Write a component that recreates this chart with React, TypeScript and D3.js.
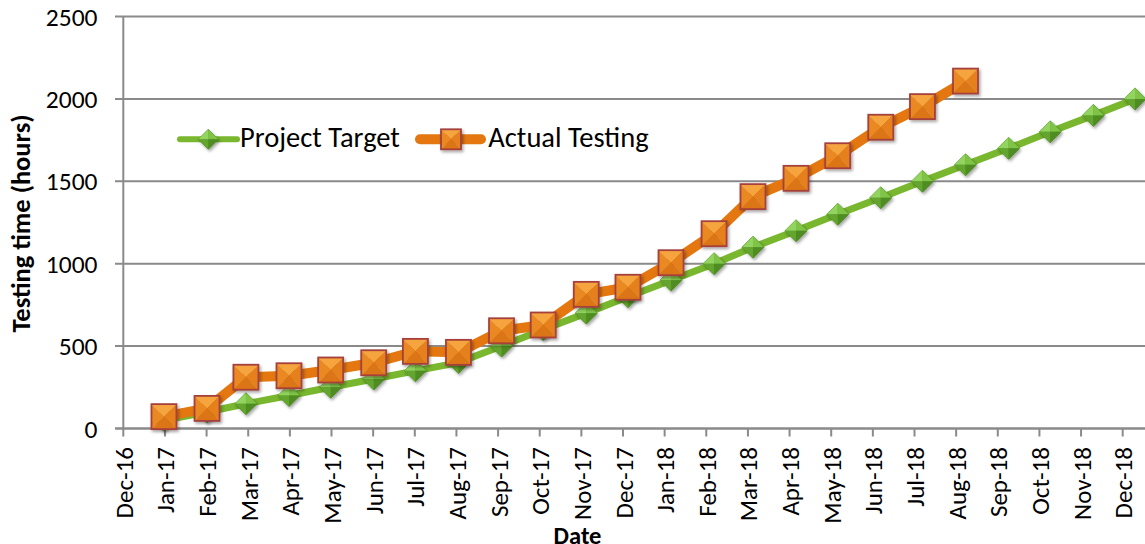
import React from "react";
import * as d3 from "d3";

const tickLabels = [
  "Dec-16", "Jan-17", "Feb-17", "Mar-17", "Apr-17", "May-17", "Jun-17", "Jul-17", "Aug-17",
  "Sep-17", "Oct-17", "Nov-17", "Dec-17", "Jan-18", "Feb-18", "Mar-18", "Apr-18", "May-18",
  "Jun-18", "Jul-18", "Aug-18", "Sep-18", "Oct-18", "Nov-18", "Dec-18",
];
const yTicks = [0, 500, 1000, 1500, 2000, 2500];

const targetMonths = [
  "2017-01", "2017-02", "2017-03", "2017-04", "2017-05", "2017-06", "2017-07", "2017-08",
  "2017-09", "2017-10", "2017-11", "2017-12", "2018-01", "2018-02", "2018-03", "2018-04",
  "2018-05", "2018-06", "2018-07", "2018-08", "2018-09", "2018-10", "2018-11", "2018-12",
];
const targetValues = [
  50, 100, 150, 200, 250, 300, 350, 400, 500, 600, 700, 800, 900, 1000, 1100, 1200, 1300, 1400,
  1500, 1600, 1700, 1800, 1900, 2000,
];
const actualMonths = [
  "2017-01", "2017-02", "2017-03", "2017-04", "2017-05", "2017-06", "2017-07", "2017-08",
  "2017-09", "2017-10", "2017-11", "2017-12", "2018-01", "2018-02", "2018-03", "2018-04",
  "2018-05", "2018-06", "2018-07", "2018-08",
];
const actualValues = [
  72, 122, 311, 320, 355, 399, 468, 462, 593, 628, 814, 857, 1006, 1182, 1407, 1518, 1655, 1828,
  1953, 2108,
];

const seriesNames = ["Project Target", "Actual Testing"];

const W = 1145;
const H = 544;
const FONT = "Carlito, Lato, 'Liberation Sans', sans-serif";

const parse = d3.timeParse("%Y-%m");

const xTick = d3.scalePoint<string>().domain(tickLabels).range([123.3, 1122.7]);
const xTime = d3
  .scaleTime()
  .domain([new Date(2016, 11, 1), new Date(2018, 11, 1)])
  .range([120.9, 1135]);
const y = d3.scaleLinear().domain([0, 2500]).range([428.5, 16.5]);

const GREEN = "#78B72E";
const ORANGE = "#E4770F";
const GRID = "#8A8A8A";

function Diamond({ cx, cy, r }: { cx: number; cy: number; r: number }) {
  const t = [cx, cy - r], b = [cx, cy + r], l = [cx - r, cy], rr = [cx + r, cy];
  const c = [cx, cy];
  const p = (a: number[][]) => a.map((q) => q.join(",")).join(" ");
  return (
    <g filter="url(#shadow)">
      <polygon points={p([t, rr, b, l])} fill="#5E9E2A" stroke="#4E8A22" strokeWidth={0.8} />
      <polygon points={p([t, c, l])} fill="#92D45E" />
      <polygon points={p([t, rr, c])} fill="#7FC447" />
      <polygon points={p([l, c, b])} fill="#64A52F" />
      <polygon points={p([c, rr, b])} fill="#4F8C22" />
    </g>
  );
}

function Square({ cx, cy, s }: { cx: number; cy: number; s: number }) {
  const h = s / 2;
  const tl = [cx - h, cy - h], tr = [cx + h, cy - h], br = [cx + h, cy + h], bl = [cx - h, cy + h];
  const c = [cx, cy];
  const p = (a: number[][]) => a.map((q) => q.join(",")).join(" ");
  return (
    <g filter="url(#shadow)">
      <polygon points={p([tl, tr, c])} fill="#F6A43E" />
      <polygon points={p([tr, br, c])} fill="#E6801C" />
      <polygon points={p([br, bl, c])} fill="#DC7414" />
      <polygon points={p([bl, tl, c])} fill="#EA8920" />
      <rect x={cx - h} y={cy - h} width={s} height={s} fill="none" stroke="#A5403C" strokeWidth={1.8} />
    </g>
  );
}

export default function App() {
  const target = targetMonths.map((m, i) => ({ d: parse(m)!, v: targetValues[i] }));
  const actual = actualMonths.map((m, i) => ({ d: parse(m)!, v: actualValues[i] }));
  const line = d3
    .line<{ d: Date; v: number }>()
    .x((p) => xTime(p.d))
    .y((p) => y(p.v));

  const axisY = y(0);
  const x0 = xTick(tickLabels[0])!;

  return (
    <svg
      width={W}
      height={H}
      style={{ position: "absolute", left: 0, top: 0, background: "#fff" }}
      fontFamily={FONT}
    >
      <defs>
        <filter id="shadow" x="-50%" y="-50%" width="200%" height="200%">
          <feDropShadow dx="1.5" dy="2" stdDeviation="1.5" floodColor="#000" floodOpacity="0.35" />
        </filter>
      </defs>
      <rect width={W} height={H} fill="#fff" />

      {/* gridlines */}
      {yTicks.map((t) => (
        <line key={t} x1={115} x2={W} y1={y(t)} y2={y(t)} stroke={GRID} strokeWidth={2} />
      ))}
      {/* y axis */}
      <line x1={x0} x2={x0} y1={y(2500)} y2={axisY} stroke={GRID} strokeWidth={2} />
      {yTicks.map((t) => (
        <text key={t} x={97.5} y={y(t)} dy="0.36em" textAnchor="end" fontSize={25.5} fill="#000">
          {t}
        </text>
      ))}
      {/* x axis */}
      <line x1={115} x2={W} y1={axisY} y2={axisY} stroke={GRID} strokeWidth={2} />
      {tickLabels.map((l) => (
        <g key={l}>
          <line x1={xTick(l)} x2={xTick(l)} y1={axisY} y2={axisY + 8} stroke={GRID} strokeWidth={2} />
          <text
            transform={`translate(${xTick(l)! + 9.5},${447}) rotate(-90)`}
            textAnchor="end"
            fontSize={25}
            fill="#000"
          >
            {l}
          </text>
        </g>
      ))}

      {/* axis titles */}
      <text
        transform={`translate(${30},${223.5}) rotate(-90)`}
        textAnchor="middle"
        fontSize={26.5}
        fontWeight="bold"
        fill="#000"
      >
        Testing time (hours)
      </text>
      <text x={577.5} y={544} textAnchor="middle" fontSize={24.5} fontWeight="bold" fill="#000">
        Date
      </text>

      {/* target series */}
      <path d={line(target)!} fill="none" stroke={GREEN} strokeWidth={7} strokeLinejoin="round" />
      {target.map((p, i) => (
        <Diamond key={i} cx={xTime(p.d)} cy={y(p.v)} r={11} />
      ))}

      {/* actual series */}
      <path d={line(actual)!} fill="none" stroke={ORANGE} strokeWidth={10} strokeLinejoin="round" />
      {actual.map((p, i) => (
        <Square key={i} cx={xTime(p.d)} cy={y(p.v)} s={25} />
      ))}

      {/* legend */}
      <line x1={180} x2={237} y1={139.3} y2={139.3} stroke={GREEN} strokeWidth={6} strokeLinecap="round" />
      <Diamond cx={208.3} cy={139.3} r={10} />
      <text x={240} y={146.5} fontSize={28.5} fill="#000">
        {seriesNames[0]}
      </text>
      <line x1={420} x2={481} y1={139.3} y2={139.3} stroke={ORANGE} strokeWidth={10} strokeLinecap="round" />
      <Square cx={451} cy={139.3} s={20} />
      <text x={488.3} y={146.5} fontSize={28.5} fill="#000">
        {seriesNames[1]}
      </text>
    </svg>
  );
}
